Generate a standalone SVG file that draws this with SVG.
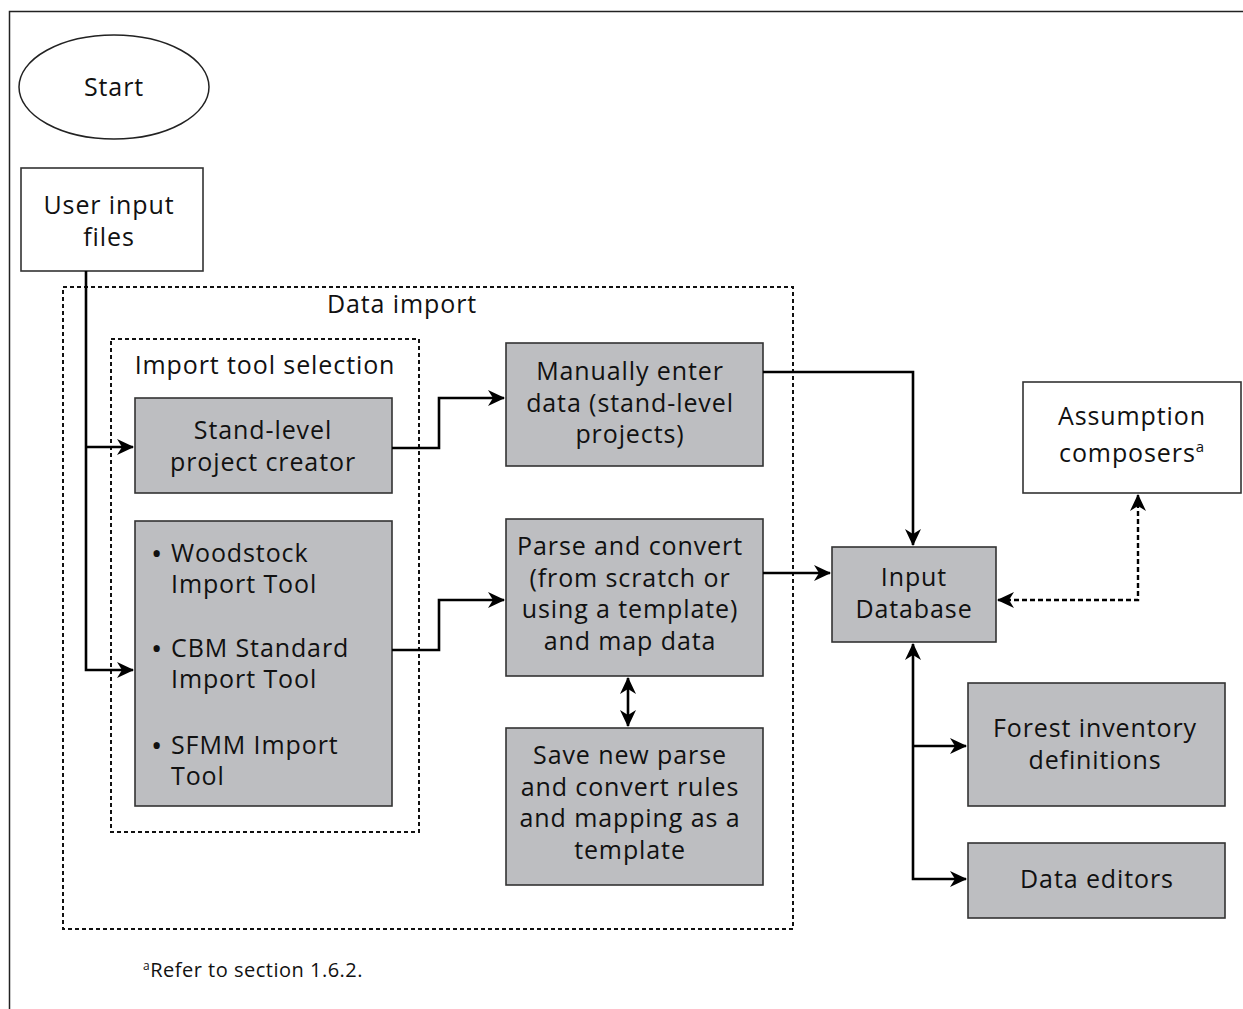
<svg xmlns="http://www.w3.org/2000/svg" width="1243" height="1009" viewBox="0 0 1243 1009">
<style>
text{font-family:"Open Sans","Noto Sans","Liberation Sans",sans-serif;font-size:25px;font-weight:500;letter-spacing:0.9px;fill:#111;text-anchor:middle}
.box{fill:#bdbec1;stroke:#333;stroke-width:1.6}
.wbox{fill:#fff;stroke:#333;stroke-width:1.6}
.dot{fill:none;stroke:#111;stroke-width:2;stroke-dasharray:4 3}
.con{fill:none;stroke:#000;stroke-width:2.6}
.dcon{fill:none;stroke:#000;stroke-width:2.4;stroke-dasharray:5 3}
.lt{text-anchor:start}
.bul{font-size:30px;text-anchor:middle}
.fn{font-size:20px;letter-spacing:0.5px;text-anchor:start}
.fns{font-size:12px}
</style>
<defs>
<marker id="ah" markerUnits="userSpaceOnUse" markerWidth="18" markerHeight="18" refX="16" refY="8" orient="auto-start-reverse" viewBox="0 0 18 16">
<path d="M0,0 L17,8 L0,16 L5,8 z" fill="#000"/>
</marker>
</defs>
<rect width="1243" height="1009" fill="#fff"/>
<path d="M9.5,1009 V11.5 H1243" fill="none" stroke="#222" stroke-width="1.5"/>

<g id="start">
<ellipse cx="114" cy="87" rx="95" ry="52" fill="#fff" stroke="#222" stroke-width="1.5"/>
<text x="114" y="96">Start</text>
</g>
<g id="user-input">
<rect class="wbox" x="21" y="168" width="182" height="103"/>
<text x="109" y="214">User input</text>
<text x="109" y="246">files</text>
</g>
<g id="data-import">
<rect class="dot" x="63" y="287" width="730" height="642"/>
<text x="402" y="313">Data import</text>
</g>
<g id="import-tool-selection">
<rect class="dot" x="111" y="339" width="308" height="493"/>
<text x="265" y="374">Import tool selection</text>
</g>
<g id="stand-level">
<rect class="box" x="135" y="398" width="257" height="95"/>
<text x="263" y="439">Stand-level</text>
<text x="263" y="471">project creator</text>
</g>
<g id="import-tools">
<rect class="box" x="135" y="521" width="257" height="285"/>
<text class="bul" x="157" y="564">•</text>
<text class="lt" x="171" y="562">Woodstock</text>
<text class="lt" x="171" y="593">Import Tool</text>
<text class="bul" x="157" y="659">•</text>
<text class="lt" x="171" y="657">CBM Standard</text>
<text class="lt" x="171" y="688">Import Tool</text>
<text class="bul" x="157" y="756">•</text>
<text class="lt" x="171" y="754">SFMM Import</text>
<text class="lt" x="171" y="785">Tool</text>
</g>
<g id="manual">
<rect class="box" x="506" y="343" width="257" height="123"/>
<text x="630" y="380">Manually enter</text>
<text x="630" y="412">data (stand-level</text>
<text x="630" y="443">projects)</text>
</g>
<g id="parse">
<rect class="box" x="506" y="519" width="257" height="157"/>
<text x="630" y="555">Parse and convert</text>
<text x="630" y="587">(from scratch or</text>
<text x="630" y="618">using a template)</text>
<text x="630" y="650">and map data</text>
</g>
<g id="save">
<rect class="box" x="506" y="728" width="257" height="157"/>
<text x="630" y="764">Save new parse</text>
<text x="630" y="796">and convert rules</text>
<text x="630" y="827">and mapping as a</text>
<text x="630" y="859">template</text>
</g>
<g id="input-db">
<rect class="box" x="832" y="547" width="164" height="95"/>
<text x="914" y="586">Input</text>
<text x="914" y="618">Database</text>
</g>
<g id="assumption">
<rect class="wbox" x="1023" y="382" width="218" height="111"/>
<text x="1132" y="425">Assumption</text>
<text x="1132" y="462">composers<tspan font-size="15" dy="-10">a</tspan></text>
</g>
<g id="forest">
<rect class="box" x="968" y="683" width="257" height="123"/>
<text x="1095" y="737">Forest inventory</text>
<text x="1095" y="769">definitions</text>
</g>
<g id="editors">
<rect class="box" x="968" y="843" width="257" height="75"/>
<text x="1097" y="888">Data editors</text>
</g>
<g id="footnote">
<text class="fn" x="143" y="977"><tspan class="fns" dy="-7">a</tspan><tspan dy="7">Refer to section 1.6.2.</tspan></text>
</g>

<g id="connectors">
<path class="con" d="M86,271 V670 H133" marker-end="url(#ah)"/>
<path class="con" d="M86,447 H133" marker-end="url(#ah)"/>
<path class="con" d="M392,448 H439 V398 H504" marker-end="url(#ah)"/>
<path class="con" d="M392,650 H439 V600 H504" marker-end="url(#ah)"/>
<path class="con" d="M763,372 H913 V545" marker-end="url(#ah)"/>
<path class="con" d="M763,573 H830" marker-end="url(#ah)"/>
<path class="con" d="M628,678 V726" marker-start="url(#ah)" marker-end="url(#ah)"/>
<path class="dcon" d="M998,600 H1138 V495" marker-start="url(#ah)" marker-end="url(#ah)"/>
<path class="con" d="M913,644 V879 H966" marker-start="url(#ah)" marker-end="url(#ah)"/>
<path class="con" d="M913,746 H966" marker-end="url(#ah)"/>
</g>
</svg>
